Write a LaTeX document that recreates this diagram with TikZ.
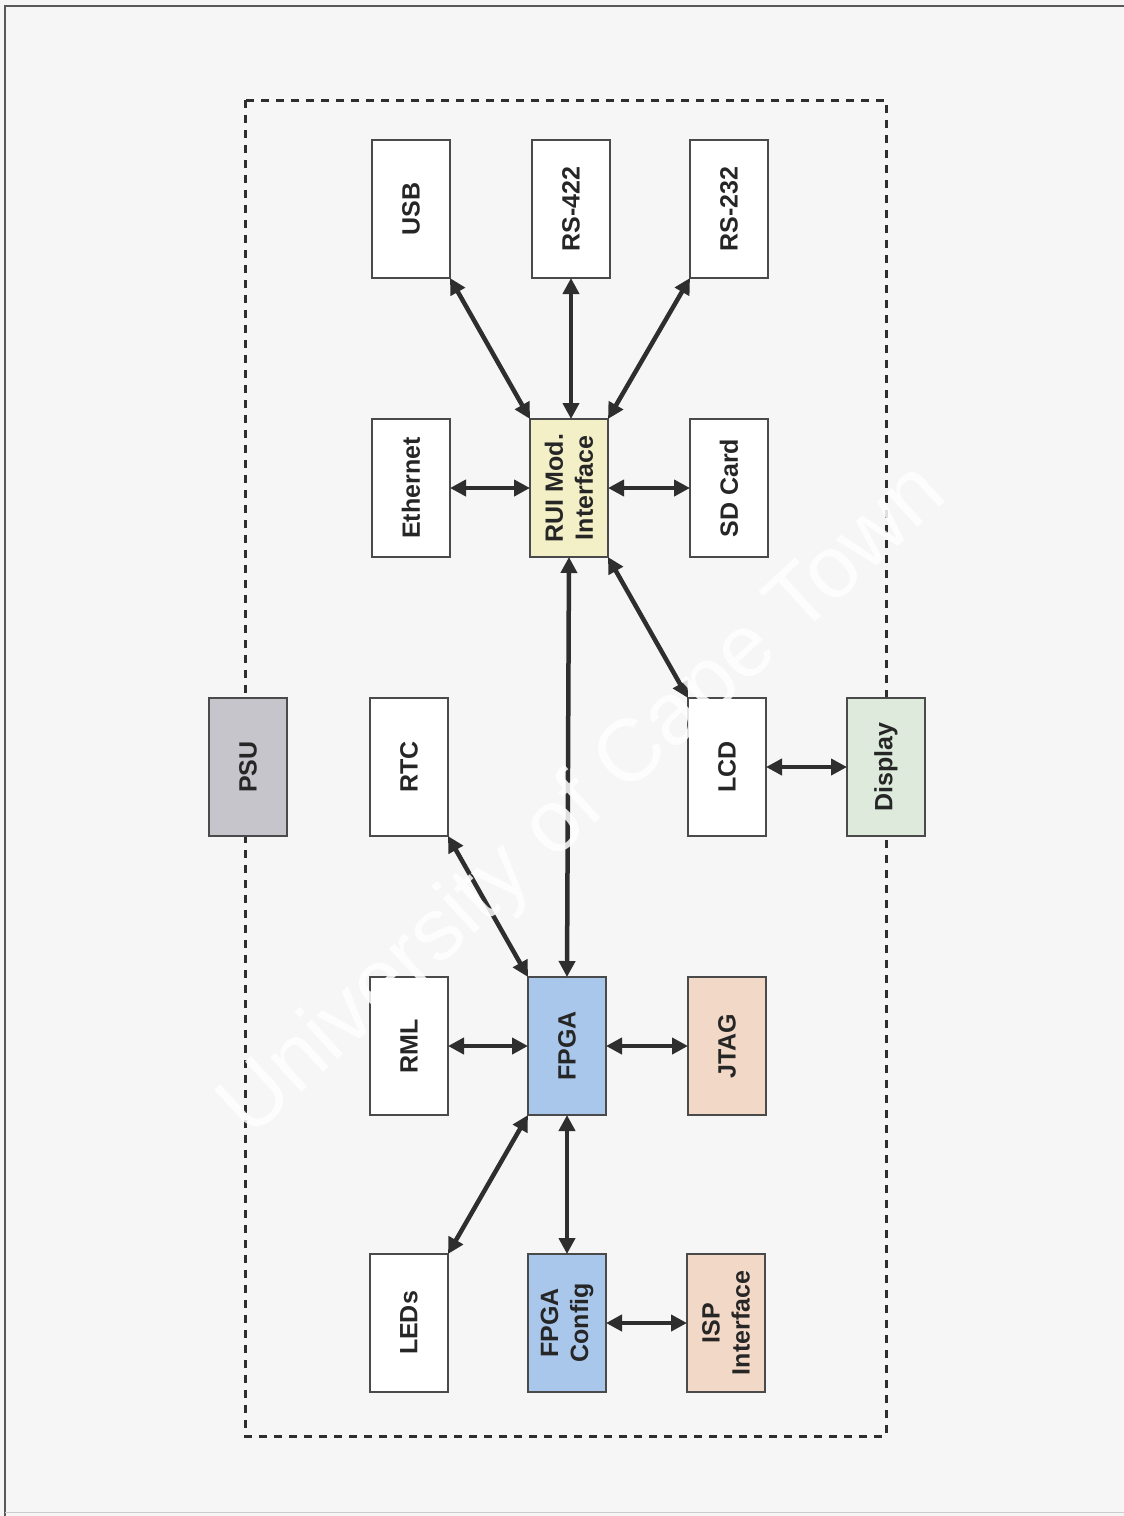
\documentclass[tikz,border=0pt]{standalone}
\usepackage{fontspec}
\setmainfont{Liberation Sans}
\usetikzlibrary{arrows.meta}
\definecolor{ruiY}{HTML}{F3EFC6}
\definecolor{fpgaB}{HTML}{A9C7EB}
\definecolor{peach}{HTML}{F2D8C6}
\definecolor{dispG}{HTML}{DDEADC}
\definecolor{psuG}{HTML}{C5C5CB}
\definecolor{lineC}{HTML}{2E2E2E}
\definecolor{boxC}{HTML}{4A4A4A}
\definecolor{bgC}{HTML}{F5F6F5}
\begin{document}
\begin{tikzpicture}[x=1pt,y=-1pt,
  box/.style={draw=boxC,line width=1.8pt,minimum width=78pt,minimum height=138pt,inner sep=0pt,outer sep=0pt},
  lbl/.style={rotate=90,font=\fontsize{25}{30}\selectfont\bfseries,text=black!85,align=center,inner sep=0pt},
  conn/.style={line width=4.5pt,draw=lineC,{Triangle[length=16pt,width=16pt]}-{Triangle[length=16pt,width=16pt]}},
  wmark/.style={rotate=42.5,font=\fontsize{88}{100}\selectfont,inner sep=0pt}
]
\fill[bgC] (0,0) rectangle (1124,1516);
\useasboundingbox (0,0) rectangle (1124,1516);
% outer frame
\draw[gray!70!black,line width=1.8pt] (5,1516) -- (5,6) -- (1124,6);
\draw[gray!40,line width=1pt] (5,1512) -- (1124,1512);
% dashed boundary
\draw[lineC,line width=3pt,dash pattern=on 8pt off 7pt] (245,100) rectangle (886,1436);
% boxes
\node[box,fill=white] (usb) at (411,209) {};
\node[box,fill=white] (rs422) at (571,209) {};
\node[box,fill=white] (rs232) at (729,209) {};
\node[box,fill=white] (eth) at (411,488) {};
\node[box,fill=ruiY] (rui) at (569,488) {};
\node[box,fill=white] (sd) at (729,488) {};
\node[box,fill=psuG] (psu) at (248,767) {};
\node[box,fill=white] (rtc) at (409,767) {};
\node[box,fill=white] (lcd) at (727,767) {};
\node[box,fill=dispG] (disp) at (886,767) {};
\node[box,fill=white] (rml) at (409,1046) {};
\node[box,fill=fpgaB] (fpga) at (567,1046) {};
\node[box,fill=peach] (jtag) at (727,1046) {};
\node[box,fill=white] (leds) at (409,1323) {};
\node[box,fill=fpgaB] (cfg) at (567,1323) {};
\node[box,fill=peach] (isp) at (726,1323) {};
% labels
\node[lbl] (usbT) at (usb) {USB};
\node[lbl] (rs422T) at (rs422) {RS-422};
\node[lbl] (rs232T) at (rs232) {RS-232};
\node[lbl] (ethT) at (eth) {Ethernet};
\node[lbl] (ruiT) at (rui) {RUI Mod.\\Interface};
\node[lbl] (sdT) at (sd) {SD Card};
\node[lbl] (psuT) at (psu) {PSU};
\node[lbl] (rtcT) at (rtc) {RTC};
\node[lbl] (lcdT) at (lcd) {LCD};
\node[lbl] (dispT) at (disp) {Display};
\node[lbl] (rmlT) at (rml) {RML};
\node[lbl] (fpgaT) at (fpga) {FPGA};
\node[lbl] (jtagT) at (jtag) {JTAG};
\node[lbl] (ledsT) at (leds) {LEDs};
\node[lbl] (cfgT) at (cfg) {FPGA\\Config};
\node[lbl] (ispT) at (isp) {ISP\\Interface};
% connectors
\draw[conn] (usb.south east) -- (rui.north west);
\draw[conn] (rs422.south) -- (rs422.south |- rui.north);
\draw[conn] (rs232.south west) -- (rui.north east);
\draw[conn] (eth.east) -- (rui.west);
\draw[conn] (rui.east) -- (sd.west);
\draw[conn] (rui.south) -- (fpga.north);
\draw[conn] (rui.south east) -- (lcd.north west);
\draw[conn] (lcd.east) -- (disp.west);
\draw[conn] (rtc.south east) -- (fpga.north west);
\draw[conn] (rml.east) -- (fpga.west);
\draw[conn] (fpga.east) -- (jtag.west);
\draw[conn] (fpga.south) -- (cfg.north);
\draw[conn] (leds.north east) -- (fpga.south west);
\draw[conn] (cfg.east) -- (isp.west);
% watermark
\node[wmark,text=white,opacity=0.85] (wm) at (585,802) {University of Cape Town};
\end{tikzpicture}
\end{document}
